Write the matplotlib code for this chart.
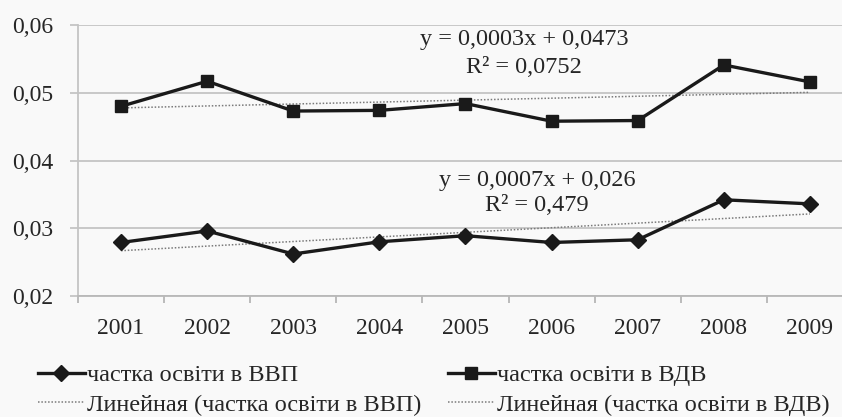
import numpy as np
import matplotlib
matplotlib.use("Agg")
import matplotlib.pyplot as plt
from matplotlib.ticker import FixedLocator, FuncFormatter

plt.rcParams['font.family'] = ['Liberation Serif', 'DejaVu Serif']

years = ['2001', '2002', '2003', '2004', '2005', '2006', '2007', '2008', '2009']
vvp = [0.0279, 0.0296, 0.0262, 0.0280, 0.0289, 0.0279, 0.0283, 0.0342, 0.0336]
vdv = [0.0480, 0.0517, 0.0473, 0.0474, 0.0484, 0.0458, 0.0459, 0.0541, 0.0516]
yticks = [0.02, 0.03, 0.04, 0.05, 0.06]
label_vvp = 'частка освіти в ВВП'
label_vdv = 'частка освіти в ВДВ'
label_tr_vvp = 'Линейная (частка освіти в ВВП)'
label_tr_vdv = 'Линейная (частка освіти в ВДВ)'
eq_vdv = ['y = 0,0003x + 0,0473', 'R² = 0,0752']
eq_vvp = ['y = 0,0007x + 0,026', 'R² = 0,479']

W, H = 842, 417
fig = plt.figure(figsize=(W / 100, H / 100), dpi=100)
bg = '#f9f9f9'
txt = '#262626'
fig.patch.set_facecolor(bg)
ax = fig.add_axes([78 / W, 1 - 296 / H, 775 / W, (296 - 25) / H])
ax.set_facecolor(bg)

x = np.arange(len(years))
xs = x + 1
c_vvp = np.polyfit(xs, vvp, 1)
c_vdv = np.polyfit(xs, vdv, 1)

trend_kw = dict(color='#7a7a7a', lw=1.1, ls=(0, (1.0, 1.2)), zorder=2)
l_tr_vvp, = ax.plot(x, np.polyval(c_vvp, xs), label=label_tr_vvp, **trend_kw)
l_tr_vdv, = ax.plot(x, np.polyval(c_vdv, xs), label=label_tr_vdv, **trend_kw)
l_vvp, = ax.plot(x, vvp, color='#1a1a1a', lw=2.4, marker='D', ms=8,
                 markeredgecolor='#1a1a1a', label=label_vvp, zorder=3)
l_vdv, = ax.plot(x, vdv, color='#1a1a1a', lw=2.4, marker='s', ms=8.5,
                 markeredgecolor='#1a1a1a', label=label_vdv, zorder=3)

ax.set_xlim(-0.5, 8.5)
ax.set_ylim(0.02, 0.06)
ax.set_yticks(yticks)
ax.yaxis.set_major_formatter(FuncFormatter(lambda v, p: f'{v:.2f}'.replace('.', ',')))
ax.grid(axis='y', color='#c4c4c4', lw=1.3, zorder=0)
ax.set_axisbelow(True)

ax.xaxis.set_major_locator(FixedLocator(np.arange(-0.5, 9.0, 1.0)))
ax.xaxis.set_minor_locator(FixedLocator(x))
ax.xaxis.set_major_formatter(FuncFormatter(lambda v, p: ''))
ax.set_xticklabels(years, minor=True)
ax.tick_params(axis='x', which='major', length=5, color='#b0b0b0', width=1.2)
ax.tick_params(axis='x', which='minor', length=0, pad=16, labelsize=17, labelcolor=txt)
ax.tick_params(axis='y', length=6, color='#c4c4c4', width=1.3, pad=12,
               labelsize=17, labelcolor=txt)

for s in ['top', 'right']:
    ax.spines[s].set_visible(False)
ax.spines['left'].set_color('#c4c4c4')
ax.spines['left'].set_linewidth(1.3)
ax.spines['bottom'].set_color('#b8b8b8')
ax.spines['bottom'].set_linewidth(1.3)

ax.text(4.68, 0.0578, eq_vdv[0], ha='center', va='center', fontsize=17.5, color=txt)
ax.text(4.68, 0.0537, eq_vdv[1], ha='center', va='center', fontsize=17.5, color=txt)
ax.text(4.83, 0.0371, eq_vvp[0], ha='center', va='center', fontsize=17.5, color=txt)
ax.text(4.83, 0.0333, eq_vvp[1], ha='center', va='center', fontsize=17.5, color=txt)

fig.legend(handles=[l_vvp, l_tr_vvp, l_vdv, l_tr_vdv], ncol=2,
           loc='upper left', bbox_to_anchor=(38 / W, 1 - 364 / H),
           frameon=False, fontsize=17.5, handlelength=1.93, handletextpad=0.1,
           columnspacing=1.07, labelspacing=0.32, borderpad=0, borderaxespad=0,
           labelcolor=txt)

fig.savefig('out.png', dpi=100, facecolor=bg)
